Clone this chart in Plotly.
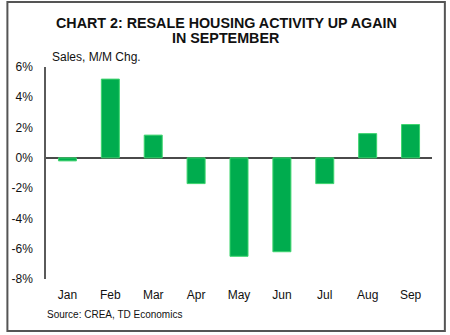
import plotly.graph_objects as go

months = ["Jan", "Feb", "Mar", "Apr", "May", "Jun", "Jul", "Aug", "Sep"]
sales_mm_chg = [-0.2, 5.2, 1.5, -1.7, -6.5, -6.2, -1.7, 1.6, 2.2]
y_ticks = [-8, -6, -4, -2, 0, 2, 4, 6]
y_tick_labels = [f"{v}%" for v in y_ticks]

W, H = 450, 335
L, R, T, B = 42, 18, 67, 56
pw, ph = W - L - R, H - T - B

def px(x):
    return (x - L) / pw

def py(y):
    return (H - B - y) / ph

font = "Liberation Sans, Arial, sans-serif"

def label(text, x, y, size, anchor="left", bold=False):
    return dict(
        text=f"<b>{text}</b>" if bold else text,
        xref="paper", yref="paper",
        x=px(x), y=py(y),
        xanchor=anchor, yanchor="middle",
        showarrow=False,
        font=dict(size=size, color="#111", family=font),
    )

fig = go.Figure(
    go.Bar(
        x=months,
        y=sales_mm_chg,
        marker=dict(color="#00AC4E", line=dict(color="#3DD46E", width=1)),
        width=0.42,
    )
)

fig.update_layout(
    width=W,
    height=H,
    margin=dict(l=L, r=R, t=T, b=B),
    paper_bgcolor="white",
    plot_bgcolor="white",
    showlegend=False,
    font=dict(family=font, color="#111"),
    xaxis=dict(
        showgrid=False,
        showline=False,
        ticks="",
        tickfont=dict(size=12, color="#111"),
        ticklabelstandoff=7,
    ),
    yaxis=dict(
        range=[-8, 6],
        tickvals=y_ticks,
        ticktext=y_tick_labels,
        showgrid=False,
        showline=True,
        linecolor="#5a5a5a",
        linewidth=1.5,
        zeroline=True,
        zerolinecolor="#4a4a4a",
        zerolinewidth=1.5,
        ticks="",
        ticklabelstandoff=9,
        tickfont=dict(size=12, color="#111"),
    ),
    annotations=[
        label("CHART 2: RESALE HOUSING ACTIVITY UP AGAIN", 224, 23, 14.3, "center", True),
        label("IN SEPTEMBER", 224, 37.5, 14.3, "center", True),
        label("Sales, M/M Chg.", 46, 57, 12),
        label("Source: CREA, TD Economics", 41, 314, 10),
    ],
    shapes=[
        dict(
            type="rect",
            xref="paper", yref="paper",
            x0=px(3), x1=px(445),
            y0=py(331), y1=py(2),
            line=dict(color="#555", width=2),
            fillcolor="rgba(0,0,0,0)",
        )
    ],
)

fig.write_html("out.html")
